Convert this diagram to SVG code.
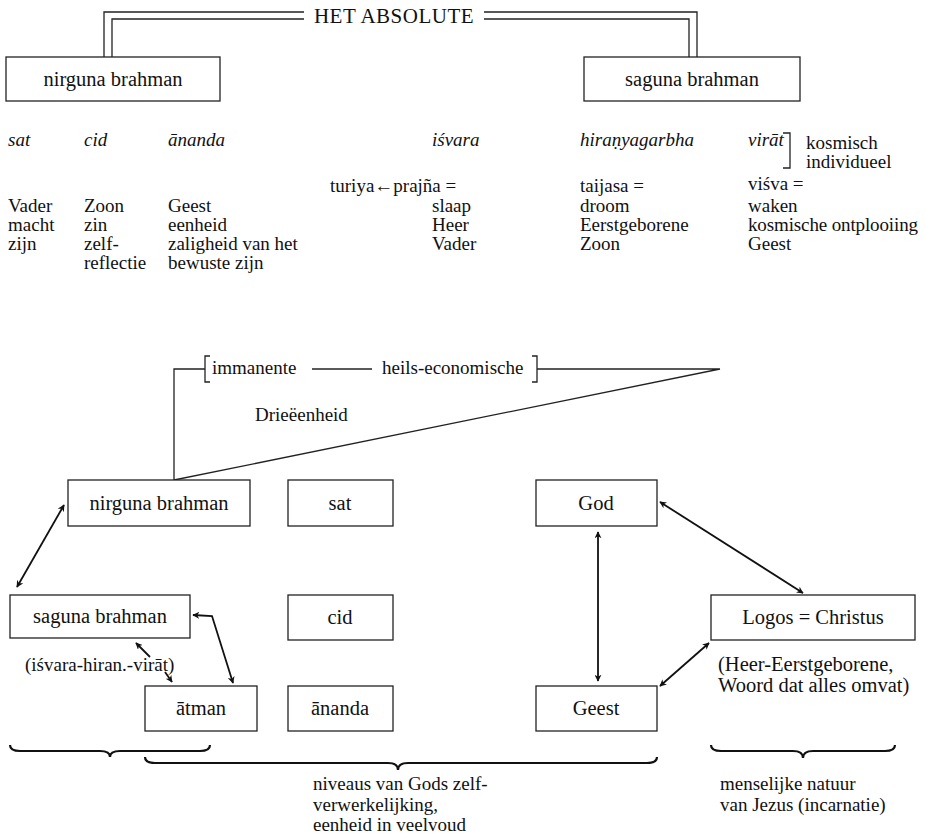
<svg xmlns="http://www.w3.org/2000/svg" width="926" height="840" viewBox="0 0 926 840">
<style>
text{font-family:"Liberation Serif","DejaVu Serif",serif;font-size:19px;fill:#111}
.it{font-style:italic}
.c{text-anchor:middle}
.bt{font-size:20.5px}
.box{fill:#fff;stroke:#222;stroke-width:1.3}
.ln{fill:none;stroke:#222;stroke-width:1.3}
.ar{fill:none;stroke:#111;stroke-width:1.8}
.br{fill:none;stroke:#111;stroke-width:2.2}
</style>
<defs>
<marker id="ah" viewBox="0 0 10 10" refX="9" refY="5" markerWidth="7" markerHeight="7" markerUnits="userSpaceOnUse" orient="auto-start-reverse">
<path d="M0,0 L10,5 L0,10 L3,5 Z" fill="#111"/>
</marker>
</defs>
<rect width="926" height="840" fill="#fff"/>

<g id="connectors">
<path class="ln" d="M104,57 V12 H304 M112,57 V19 H304"/>
<path class="ln" d="M484,12 H697 V57 M484,19 H689 V57"/>
<path class="ln" d="M783,133 H790 V168 H783"/>
<path class="ln" d="M174,480 V369 H205 M210,356 H205 V382 H210"/>
<path class="ln" d="M312,369 H372"/>
<path class="ln" d="M532,356 H537 V382 H532 M537,369 H720 L174,480"/>
<path class="ar" d="M64,505 L17,587" marker-start="url(#ah)" marker-end="url(#ah)"/>
<path class="ar" d="M193,615 L212,616 L233,683" marker-start="url(#ah)" marker-end="url(#ah)"/>
<path class="ar" d="M150,657 L136,643" marker-end="url(#ah)"/>
<path class="ar" d="M165,672 L172,682" marker-end="url(#ah)"/>
<path class="ar" d="M598,532 V681" marker-start="url(#ah)" marker-end="url(#ah)"/>
<path class="ar" d="M660,502 L803,593" marker-start="url(#ah)" marker-end="url(#ah)"/>
<path class="ar" d="M709,643 L660,686" marker-start="url(#ah)" marker-end="url(#ah)"/>
<path class="br" d="M10,745 Q10,751 20,751 L100,751 Q110,751 110,757 Q110,751 120,751 L200,751 Q210,751 210,745"/>
<path class="br" d="M145,757 Q145,763 155,763 L388,763 Q398,763 398,770 Q398,763 408,763 L647,763 Q657,763 657,757"/>
<path class="br" d="M711,745 Q711,751 721,751 L793,751 Q803,751 803,758 Q803,751 813,751 L885,751 Q895,751 895,745"/>
</g>

<g id="title"><text x="394" y="23" class="c" style="font-size:21px;letter-spacing:0.5px">HET ABSOLUTE</text></g>
<g id="n-nirguna-top"><rect class="box" x="6" y="57" width="214" height="44"/><text x="113" y="86" class="c bt">nirguna brahman</text></g>
<g id="n-saguna-top"><rect class="box" x="584" y="57" width="216" height="44"/><text x="692" y="86" class="c bt">saguna brahman</text></g>

<g id="table">
<text x="8" y="146" class="it">sat</text>
<text x="84" y="146" class="it">cid</text>
<text x="168" y="146" class="it">ānanda</text>
<text x="432" y="146" class="it">iśvara</text>
<text x="580" y="146" class="it">hiraṇyagarbha</text>
<text x="748" y="146" class="it">virāt</text>
<text x="806" y="149">kosmisch</text>
<text x="806" y="168">individueel</text>
<text x="330" y="192">turiya←prajña =</text>
<text x="580" y="192">taijasa =</text>
<text x="748" y="190">viśva =</text>
<text x="8" y="212">Vader</text><text x="84" y="212">Zoon</text><text x="168" y="212">Geest</text><text x="432" y="212">slaap</text><text x="580" y="212">droom</text><text x="748" y="212">waken</text>
<text x="8" y="231">macht</text><text x="84" y="231">zin</text><text x="168" y="231">eenheid</text><text x="432" y="231">Heer</text><text x="580" y="231">Eerstgeborene</text><text x="748" y="231" textLength="170" lengthAdjust="spacing">kosmische ontplooiing</text>
<text x="8" y="250">zijn</text><text x="84" y="250">zelf-</text><text x="168" y="250">zaligheid van het</text><text x="432" y="250">Vader</text><text x="580" y="250">Zoon</text><text x="748" y="250">Geest</text>
<text x="84" y="269">reflectie</text><text x="168" y="269">bewuste zijn</text>
</g>

<g id="trinity-labels">
<text x="212" y="374">immanente</text>
<text x="382" y="374">heils-economische</text>
<text x="255" y="421">Drieëenheid</text>
</g>

<g id="n-nirguna"><rect class="box" x="68" y="480" width="182" height="46"/><text x="159" y="510" class="c bt">nirguna brahman</text></g>
<g id="n-sat"><rect class="box" x="288" y="480" width="105" height="46"/><text x="340" y="510" class="c bt">sat</text></g>
<g id="n-god"><rect class="box" x="536" y="480" width="121" height="46"/><text x="596" y="510" class="c bt">God</text></g>
<g id="n-saguna"><rect class="box" x="10" y="595" width="180" height="43"/><text x="100" y="623" class="c bt">saguna brahman</text></g>
<g id="n-cid"><rect class="box" x="288" y="595" width="105" height="45"/><text x="340" y="624" class="c bt">cid</text></g>
<g id="n-logos"><rect class="box" x="711" y="595" width="204" height="45"/><text x="813" y="624" class="c bt">Logos = Christus</text></g>
<g id="n-atman"><rect class="box" x="145" y="686" width="112" height="45"/><text x="201" y="715" class="c bt">ātman</text></g>
<g id="n-ananda"><rect class="box" x="288" y="686" width="105" height="45"/><text x="340" y="715" class="c bt">ānanda</text></g>
<g id="n-geest"><rect class="box" x="536" y="686" width="121" height="45"/><text x="596" y="715" class="c bt">Geest</text></g>

<g id="notes">
<text x="25" y="671">(iśvara-hiran.-virāt)</text>
<text x="718" y="671" class="bt">(Heer-Eerstgeborene,</text>
<text x="718" y="692" class="bt">Woord dat alles omvat)</text>
<text x="313" y="790">niveaus van Gods zelf-</text>
<text x="313" y="811">verwerkelijking,</text>
<text x="313" y="831">eenheid in veelvoud</text>
<text x="720" y="790">menselijke natuur</text>
<text x="720" y="811">van Jezus (incarnatie)</text>
</g>
</svg>
